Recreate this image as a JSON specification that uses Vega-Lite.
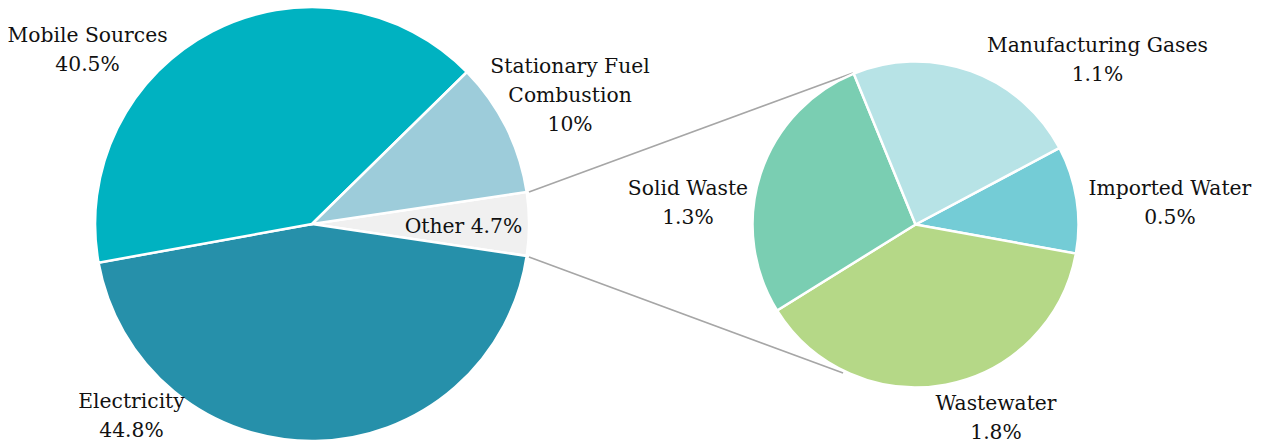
{
  "$schema": "https://vega.github.io/schema/vega-lite/v6.json",
  "width": 1267,
  "height": 444,
  "autosize": {"type": "none"},
  "padding": 0,
  "background": "white",
  "config": {
    "view": {"stroke": null},
    "font": "DejaVu Serif",
    "text": {"font": "DejaVu Serif", "fontSize": 20.3, "lineHeight": 29, "align": "center", "baseline": "alphabetic", "lineBreak": "\n", "color": "#111111"}
  },
  "data": {"values": [
    {"category": "Other", "share": 4.7, "pie": "Total", "order": 1, "label": "Other 4.7%"},
    {"category": "Electricity", "share": 44.8, "pie": "Total", "order": 2, "label": "Electricity\n44.8%"},
    {"category": "Mobile Sources", "share": 40.5, "pie": "Total", "order": 3, "label": "Mobile Sources\n40.5%"},
    {"category": "Stationary Fuel Combustion", "share": 10, "pie": "Total", "order": 4, "label": "Stationary Fuel\nCombustion\n10%"},
    {"category": "Imported Water", "share": 0.5, "pie": "Other", "order": 1, "label": "Imported Water\n0.5%"},
    {"category": "Wastewater", "share": 1.8, "pie": "Other", "order": 2, "label": "Wastewater\n1.8%"},
    {"category": "Solid Waste", "share": 1.3, "pie": "Other", "order": 3, "label": "Solid Waste\n1.3%"},
    {"category": "Manufacturing Gases", "share": 1.1, "pie": "Other", "order": 4, "label": "Manufacturing Gases\n1.1%"}
  ]},
  "layer": [
    {
      "data": {"values": [{"connector": "upper"}]},
      "mark": {"type": "rule", "color": "#A6A6A6", "strokeWidth": 1.6},
      "encoding": {
        "x": {"datum": 0.4175, "type": "quantitative", "scale": {"domain": [0, 1], "zero": false, "nice": false}, "axis": null},
        "y": {"datum": 0.4324, "type": "quantitative", "scale": {"domain": [0, 1], "zero": false, "nice": false, "reverse": true}, "axis": null},
        "x2": {"datum": 0.6732},
        "y2": {"datum": 0.1644}
      }
    },
    {
      "data": {"values": [{"connector": "lower"}]},
      "mark": {"type": "rule", "color": "#A6A6A6", "strokeWidth": 1.6},
      "encoding": {
        "x": {"datum": 0.4175, "type": "quantitative"},
        "y": {"datum": 0.5788, "type": "quantitative"},
        "x2": {"datum": 0.6654},
        "y2": {"datum": 0.8401}
      }
    },
    {
      "transform": [{"filter": "datum.pie === 'Total'"}],
      "mark": {"type": "arc", "outerRadius": 217, "stroke": "white", "strokeWidth": 2.5},
      "encoding": {
        "x": {"datum": 0.2463, "type": "quantitative"},
        "y": {"datum": 0.5045, "type": "quantitative"},
        "theta": {"field": "share", "type": "quantitative", "stack": true, "scale": {"range": [1.4231, 7.7063]}},
        "order": {"field": "order", "type": "quantitative"},
        "color": {
          "field": "category", "type": "nominal", "legend": null,
          "scale": {
            "domain": ["Other", "Electricity", "Mobile Sources", "Stationary Fuel Combustion", "Imported Water", "Wastewater", "Solid Waste", "Manufacturing Gases"],
            "range": ["#F0F0F0", "#2690AA", "#00B2C1", "#9DCCDA", "#74CCD6", "#B5D887", "#7ACEB2", "#B7E3E6"]
          }
        }
      }
    },
    {
      "transform": [{"filter": "datum.pie === 'Other'"}],
      "mark": {"type": "arc", "outerRadius": 163, "stroke": "white", "strokeWidth": 2.5},
      "encoding": {
        "x": {"datum": 0.7226, "type": "quantitative"},
        "y": {"datum": 0.5056, "type": "quantitative"},
        "theta": {"field": "share", "type": "quantitative", "stack": true, "scale": {"range": [1.0821, 7.3653]}},
        "order": {"field": "order", "type": "quantitative"},
        "color": {"field": "category", "type": "nominal", "legend": null}
      }
    },
    {"transform": [{"filter": "datum.category === 'Mobile Sources'"}], "mark": {"type": "text", "font": "DejaVu Serif"},
     "encoding": {"x": {"datum": 0.0691, "type": "quantitative"}, "y": {"datum": 0.0946, "type": "quantitative"}, "text": {"field": "label"}}},
    {"transform": [{"filter": "datum.category === 'Stationary Fuel Combustion'"}], "mark": {"type": "text", "font": "DejaVu Serif"},
     "encoding": {"x": {"datum": 0.4499, "type": "quantitative"}, "y": {"datum": 0.1651, "type": "quantitative"}, "text": {"field": "label"}}},
    {"transform": [{"filter": "datum.category === 'Other'"}], "mark": {"type": "text", "font": "DejaVu Serif"},
     "encoding": {"x": {"datum": 0.3658, "type": "quantitative"}, "y": {"datum": 0.5255, "type": "quantitative"}, "text": {"field": "label"}}},
    {"transform": [{"filter": "datum.category === 'Electricity'"}], "mark": {"type": "text", "font": "DejaVu Serif"},
     "encoding": {"x": {"datum": 0.1038, "type": "quantitative"}, "y": {"datum": 0.9189, "type": "quantitative"}, "text": {"field": "label"}}},
    {"transform": [{"filter": "datum.category === 'Manufacturing Gases'"}], "mark": {"type": "text", "font": "DejaVu Serif"},
     "encoding": {"x": {"datum": 0.8662, "type": "quantitative"}, "y": {"datum": 0.1164, "type": "quantitative"}, "text": {"field": "label"}}},
    {"transform": [{"filter": "datum.category === 'Imported Water'"}], "mark": {"type": "text", "font": "DejaVu Serif"},
     "encoding": {"x": {"datum": 0.9234, "type": "quantitative"}, "y": {"datum": 0.4392, "type": "quantitative"}, "text": {"field": "label"}}},
    {"transform": [{"filter": "datum.category === 'Solid Waste'"}], "mark": {"type": "text", "font": "DejaVu Serif"},
     "encoding": {"x": {"datum": 0.543, "type": "quantitative"}, "y": {"datum": 0.4392, "type": "quantitative"}, "text": {"field": "label"}}},
    {"transform": [{"filter": "datum.category === 'Wastewater'"}], "mark": {"type": "text", "font": "DejaVu Serif"},
     "encoding": {"x": {"datum": 0.7861, "type": "quantitative"}, "y": {"datum": 0.9234, "type": "quantitative"}, "text": {"field": "label"}}}
  ],
  "resolve": {"scale": {"theta": "independent"}}
}
